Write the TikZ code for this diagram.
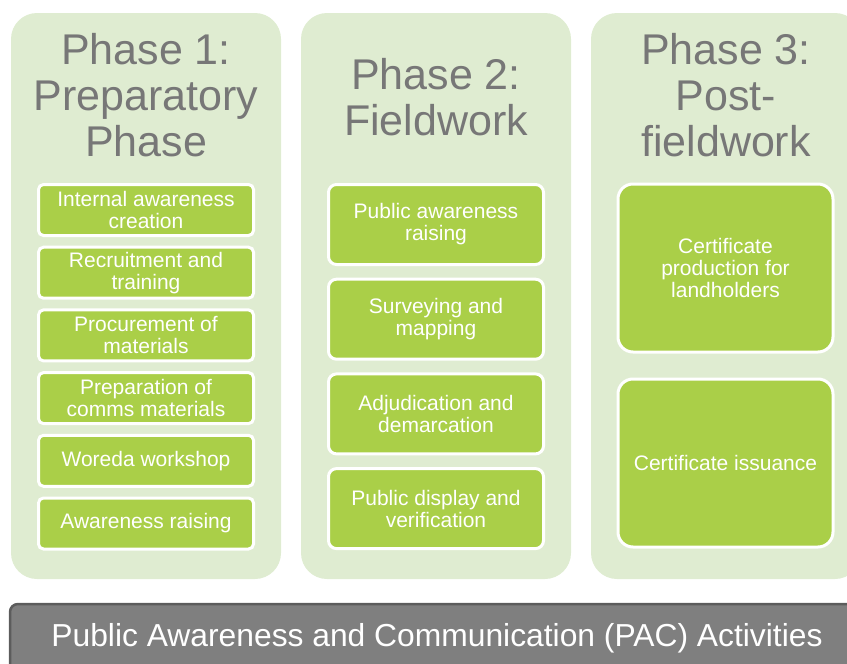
\documentclass[tikz,border=0pt]{standalone}
\usepackage{fontspec}
\setmainfont{Liberation Sans}
\usepackage{tikz}

\definecolor{phasebg}{HTML}{DFECD1}
\definecolor{taskgreen}{HTML}{AACF48}
\definecolor{titlegray}{HTML}{777777}
\definecolor{pacgray}{HTML}{7F7F7F}
\definecolor{pacedge}{HTML}{5C5C5C}

\begin{document}
\begin{tikzpicture}[x=1pt, y=-1pt]
      \tikzstyle{phase} = [rectangle, rounded corners=26pt, minimum width=270pt, minimum height=566pt, inner sep=0pt, fill=phasebg]
      \tikzstyle{heading} = [text=titlegray, align=center, font=\fontsize{43}{46}\selectfont]
      \tikzstyle{task} = [rectangle, draw=white, line width=3pt, fill=taskgreen, text=white, align=center, minimum width=215pt, font=\fontsize{21}{22}\selectfont]
      \tikzstyle{tasksmall} = [task, rounded corners=5pt, minimum height=51pt, node distance=62.7pt]
      \tikzstyle{taskmid} = [task, rounded corners=8pt, minimum height=80pt, node distance=94.7pt]
      \tikzstyle{taskbig} = [task, rounded corners=15pt, minimum height=168pt, node distance=195pt]
      \tikzstyle{pacbar} = [rectangle, rounded corners=8pt, minimum width=880pt, minimum height=100pt, fill=pacgray, draw=pacedge, line width=2.5pt]

      \clip (0,0) rectangle (847,664);

      % the three phase columns
      \node (col1) [phase] at (146,296) {};
      \node (col2) [phase] at (436,296) {};
      \node (col3) [phase] at (726,296) {};

      \node (head1) [heading] at (146,95) {Phase 1:\\Preparatory\\Phase};
      \node (head2) [heading] at (436,97) {Phase 2:\\Fieldwork};
      \node (head3) [heading] at (726,95) {Phase 3:\\Post-\\fieldwork};

      % phase 1 steps
      \node (prep1) [tasksmall] at (146,210) {Internal awareness\\creation};
      \node (prep2) [tasksmall, below of=prep1] {Recruitment and\\training};
      \node (prep3) [tasksmall, below of=prep2] {Procurement of\\materials};
      \node (prep4) [tasksmall, below of=prep3] {Preparation of\\comms materials};
      \node (prep5) [tasksmall, below of=prep4] {Woreda workshop};
      \node (prep6) [tasksmall, below of=prep5] {Awareness raising};

      % phase 2 steps
      \node (field1) [taskmid] at (436,224.5) {Public awareness\\raising};
      \node (field2) [taskmid, below of=field1] {Surveying and\\mapping};
      \node (field3) [taskmid, below of=field2] {Adjudication and\\demarcation};
      \node (field4) [taskmid, below of=field3] {Public display and\\verification};

      % phase 3 steps
      \node (post1) [taskbig] at (725.5,268) {Certificate\\production for\\landholders};
      \node (post2) [taskbig, below of=post1] {Certificate issuance};

      % PAC bar along the bottom
      \node (pac) [pacbar] at (450,654) {};
      \node (pactext) [text=white, font=\fontsize{31.8}{34}\selectfont] at (437,638) {Public Awareness and Communication (PAC) Activities};

\end{tikzpicture}
\end{document}
